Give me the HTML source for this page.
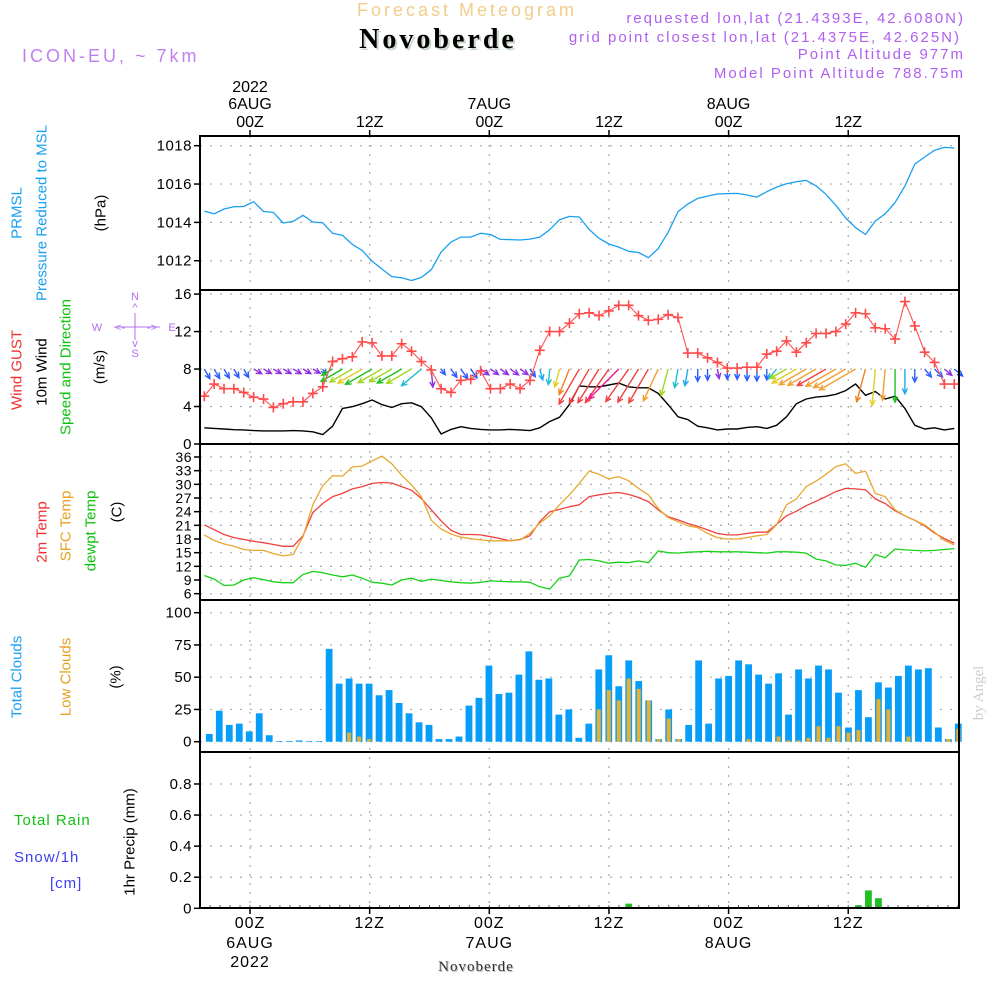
<!DOCTYPE html>
<html><head><meta charset="utf-8"><style>
html,body{margin:0;padding:0;background:#fff;}
svg text{font-family:"Liberation Sans",sans-serif;}
</style></head><body>
<svg id="chart" width="1000" height="1000" viewBox="0 0 1000 1000" xmlns="http://www.w3.org/2000/svg">
<rect width="1000" height="1000" fill="#fff"/>
<g id="grid"></g>
<g id="marks"></g>
<g id="frames"></g>
<g id="labels">
<text x="467" y="16" text-anchor="middle" font-size="18" letter-spacing="3" fill="#f2cc8a">Forecast Meteogram</text>
<text x="440" y="50" text-anchor="middle" font-size="28" font-weight="bold" letter-spacing="3" fill="#c8d8c8" style="font-family:'Liberation Serif',serif">Novoberde</text>
<text x="438" y="48" text-anchor="middle" font-size="28" font-weight="bold" letter-spacing="3" fill="#000" style="font-family:'Liberation Serif',serif">Novoberde</text>
<text x="22" y="62" font-size="18" letter-spacing="3" fill="#c080f0">ICON-EU, ~ 7km</text>
<text x="965" y="23" text-anchor="end" font-size="15" letter-spacing="2" fill="#b060f0">requested lon,lat (21.4393E, 42.6080N)</text>
<text x="961" y="42" text-anchor="end" font-size="15" letter-spacing="2" fill="#b060f0">grid point closest lon,lat (21.4375E, 42.625N)</text>
<text x="965" y="59" text-anchor="end" font-size="15" letter-spacing="2" fill="#b060f0">Point Altitude 977m</text>
<text x="965" y="78" text-anchor="end" font-size="15" letter-spacing="2" fill="#b060f0">Model Point Altitude 788.75m</text>
<text transform="translate(983,693) rotate(-90)" text-anchor="middle" font-size="15" fill="#ccc" style="font-family:'Liberation Serif',serif">by Angel</text>
<text x="477" y="972" text-anchor="middle" font-size="15" fill="#bbb" letter-spacing="1" style="font-family:'Liberation Serif',serif">Novoberde</text>
<text x="476" y="971" text-anchor="middle" font-size="15" fill="#333" letter-spacing="1" style="font-family:'Liberation Serif',serif">Novoberde</text>
</g>
<g id="ylabels" font-size="15">
<text transform="translate(17,213) rotate(-90)" text-anchor="middle" dominant-baseline="central" fill="#1aa0f0">PRMSL</text>
<text transform="translate(42,213) rotate(-90)" text-anchor="middle" dominant-baseline="central" fill="#1aa0f0">Pressure Reduced to MSL</text>
<text transform="translate(101,213) rotate(-90)" text-anchor="middle" dominant-baseline="central" fill="#000">(hPa)</text>
<text transform="translate(17,370) rotate(-90)" text-anchor="middle" dominant-baseline="central" fill="#f03030">Wind GUST</text>
<text transform="translate(42,372) rotate(-90)" text-anchor="middle" dominant-baseline="central" fill="#000">10m Wind</text>
<text transform="translate(66,367) rotate(-90)" text-anchor="middle" dominant-baseline="central" fill="#10c010">Speed and Direction</text>
<text transform="translate(100,367) rotate(-90)" text-anchor="middle" dominant-baseline="central" fill="#000">(m/s)</text>
<g fill="#b070f0" font-size="11" text-anchor="middle">
<text x="135" y="300">N</text><text x="135" y="311">^</text>
<line x1="135" y1="313" x2="135" y2="340" stroke="#b070f0" stroke-width="1"/>
<text x="97" y="331">W</text><text x="120" y="331">&lt;-</text><text x="152" y="331">-&gt;</text>
<line x1="114" y1="327" x2="160" y2="327" stroke="#b070f0" stroke-width="1"/>
<text x="172" y="331">E</text><text x="135" y="347">v</text><text x="135" y="357">S</text></g>
<text transform="translate(42,532) rotate(-90)" text-anchor="middle" dominant-baseline="central" fill="#f03030">2m Temp</text>
<text transform="translate(66,526) rotate(-90)" text-anchor="middle" dominant-baseline="central" fill="#e8a020">SFC Temp</text>
<text transform="translate(91,531) rotate(-90)" text-anchor="middle" dominant-baseline="central" fill="#10c010">dewpt Temp</text>
<text transform="translate(117,512) rotate(-90)" text-anchor="middle" dominant-baseline="central" fill="#000">(C)</text>
<text transform="translate(17,677) rotate(-90)" text-anchor="middle" dominant-baseline="central" fill="#1aa0f0">Total Clouds</text>
<text transform="translate(66,677) rotate(-90)" text-anchor="middle" dominant-baseline="central" fill="#e8a020">Low Clouds</text>
<text transform="translate(116,677) rotate(-90)" text-anchor="middle" dominant-baseline="central" fill="#000">(%)</text>
<text transform="translate(130,842) rotate(-90)" text-anchor="middle" dominant-baseline="central" fill="#000">1hr Precip (mm)</text>
<text x="14" y="825" fill="#10c010" letter-spacing="1">Total  Rain</text>
<text x="14" y="862" fill="#4040f0" letter-spacing="1">Snow/1h</text>
<text x="50" y="888" fill="#4040f0" letter-spacing="1">[cm]</text>
</g>
</svg>
<script>
// ---- data ----
const pressure=[1014.59,1014.45,1014.7,1014.82,1014.83,1015.08,1014.57,1014.52,1013.97,1014.05,1014.37,1014.02,1013.98,1013.43,1013.32,1012.85,1012.54,1011.97,1011.57,1011.17,1011.11,1010.97,1011.13,1011.53,1012.45,1012.97,1013.23,1013.23,1013.43,1013.37,1013.11,1013.1,1013.08,1013.13,1013.23,1013.62,1014.14,1014.31,1014.28,1013.63,1013.17,1012.87,1012.71,1012.49,1012.43,1012.16,1012.63,1013.48,1014.56,1014.96,1015.25,1015.37,1015.48,1015.5,1015.51,1015.43,1015.32,1015.6,1015.84,1016.02,1016.12,1016.19,1015.91,1015.46,1014.89,1014.23,1013.72,1013.37,1014.07,1014.45,1015.03,1015.9,1017.04,1017.41,1017.76,1017.91,1017.88];
const gust=[5.1,6.4,5.9,5.9,5.5,5.0,4.8,3.9,4.3,4.5,4.5,5.4,6.1,8.8,9.1,9.3,10.9,10.8,9.4,9.4,10.7,9.9,8.8,7.9,5.9,5.5,6.8,6.9,7.8,5.9,5.9,6.4,5.9,6.8,10.0,12.0,12.0,12.9,13.9,14.0,13.7,14.2,14.8,14.8,13.7,13.2,13.3,13.8,13.5,9.7,9.7,9.2,8.7,8.1,8.1,8.2,8.2,9.6,9.9,11.0,9.8,10.8,11.8,11.8,12.0,12.8,14.0,13.9,12.4,12.3,11.2,15.2,12.6,9.8,8.7,6.4,6.4];
const windSpeed=[1.73,1.67,1.6,1.53,1.5,1.43,1.4,1.4,1.4,1.43,1.4,1.3,1.0,1.9,3.8,3.98,4.3,4.7,4.2,3.9,4.3,4.4,3.98,2.8,1.07,1.56,1.85,1.67,1.56,1.5,1.5,1.56,1.5,1.43,1.73,2.4,2.85,4.2,6.2,6.1,6.1,6.3,6.5,6.1,6.0,6.0,5.4,4.2,2.9,2.6,1.9,1.73,1.5,1.6,1.6,1.77,1.85,1.67,2.0,2.9,4.3,4.8,5.0,5.1,5.3,5.7,6.4,5.2,5.6,4.8,5.1,3.8,2.0,1.6,1.73,1.5,1.67];
const windDir=[60,60,60,60,60,30,30,30,30,30,30,30,60,150,150,150,150,150,150,150,150,150,140,85,55,55,55,55,35,35,35,35,35,55,75,95,105,112,120,120,122,125,135,125,122,120,115,105,100,100,90,90,80,90,90,90,90,90,130,150,150,150,150,150,150,150,150,105,95,95,90,90,90,50,45,40,40];
const windColor=["#2a5cff","#2a5cff","#2a5cff","#2a5cff","#2a5cff","#9030e0","#9030e0","#9030e0","#9030e0","#9030e0","#9030e0","#9030e0","#2a5cff","#20c020","#20c020","#a0d820","#e0d020","#20c020","#a0d820","#a0d820","#20c020","#a0d820","#20c0d0","#9030e0","#2a5cff","#2a5cff","#2a5cff","#2a5cff","#9030e0","#9030e0","#9030e0","#9030e0","#9030e0","#2a5cff","#20a8f0","#20c0d0","#e0d020","#f08020","#f04040","#f04040","#f04040","#f04040","#f01890","#f04040","#f04040","#f04040","#f0a030","#a0d820","#20c0d0","#20a8f0","#2a5cff","#2a5cff","#9030e0","#2a5cff","#2a5cff","#2a5cff","#2a5cff","#2a5cff","#20c0d0","#a0d820","#e0d020","#f0a030","#f0a030","#f04040","#f0a030","#f0a030","#f0a030","#f08020","#e0d020","#f0a030","#20c020","#20a8f0","#2a5cff","#2a5cff","#2a5cff","#9030e0","#2a5cff"];
const t2m=[21.1,20.05,19.0,18.3,17.9,17.5,17.2,16.8,16.4,16.4,18.7,23.8,25.8,27.3,28.0,29.0,29.5,30.2,30.4,30.3,29.5,28.7,26.9,24.4,22.0,19.9,19.0,19.0,18.9,18.5,18.1,17.6,17.9,18.7,21.8,24.0,24.5,25.1,25.5,27.3,27.7,28.0,28.2,27.8,27.1,26.2,24.4,22.9,22.2,21.4,20.8,20.0,19.2,18.9,18.9,19.2,19.5,19.5,21.2,23.1,24.1,25.3,26.3,27.3,28.4,29.1,29.0,28.8,26.8,25.8,24.2,23.1,22.1,20.9,19.3,18.1,17.1];
const sfcTemp=[18.9,17.7,16.9,16.4,15.7,15.5,15.5,14.8,14.3,14.6,18.5,25.5,29.7,31.9,31.8,33.8,34.0,35.1,36.2,34.5,32.0,29.9,27.3,22.1,20.2,19.1,18.4,18.1,17.8,17.6,17.6,17.6,17.8,19.2,21.5,23.1,25.5,27.7,30.2,32.9,32.2,31.2,31.7,30.8,29.1,27.7,24.7,22.7,21.8,20.9,20.5,19.2,18.3,18.0,18.0,18.3,18.7,19.0,21.1,25.5,26.8,29.5,30.7,32.2,33.9,34.5,32.4,32.9,28.0,27.3,24.4,23.1,22.1,21.1,19.5,17.7,16.7];
const dewpt=[10.0,9.2,7.8,7.9,9.0,9.5,9.1,8.6,8.4,8.4,10.2,10.9,10.6,10.1,9.7,10.1,9.4,8.5,8.3,7.9,9.0,9.4,8.7,9.2,8.9,8.6,8.4,8.3,8.5,8.8,8.7,8.6,8.6,8.5,7.5,7.0,9.4,9.9,13.4,13.5,13.2,12.7,12.9,12.8,13.2,12.8,15.4,15.0,14.9,15.1,15.2,15.3,15.2,15.2,15.2,15.1,15.0,14.9,15.2,15.2,15.1,14.9,13.6,13.2,12.3,12.2,12.7,11.8,14.6,13.9,15.8,15.6,15.5,15.4,15.5,15.7,15.9];
const totalClouds=[6,24,13,14,8,22,5,0.5,0.5,1,0.5,0.5,72,45,49,45,45,36,40,30,22,15,13,2,2,4,28,34,59,37,38,52,70,48,49,21,25,3,14,56,67,43,63,47,32,2,25,2,13,63,14,49,51,63,60,52,45,53,21,56,49,59,56,38,11,40,19,46,42,51,59,56,57,11,2,14];
const lowClouds=[0,0,0,0,0,0,0,0,0,0,0,0,0,0,7,4,2,0,0,0,0,0,0,0,0,0,0,0,0,0,0,0,0,0,0,0,0,0,0,25,40,32,49,41,32,2,18,2,0,0,0,0,0,0,2,0,0,4,1,1,3,12,3,12,7,9,0,33,25,0,4,0,0,0,2,10];
const precip=[0,0,0,0,0,0,0,0,0,0,0,0,0,0,0,0,0,0,0,0,0,0,0,0,0,0,0,0,0,0,0,0,0,0,0,0,0,0,0,0,0,0,0.03,0,0,0,0,0,0,0,0,0,0,0,0,0,0,0,0,0,0,0,0,0,0,0.02,0.115,0.065,0,0,0,0,0,0,0,0];
const pTicks=[1012,1014,1016,1018];
const wTicks=[0,4,8,12,16];
const tTicks=[6,9,12,15,18,21,24,27,30,33,36];
const cTicks=[0,25,50,75,100];
const rTicks=[0,0.2,0.4,0.6,0.8];
const timeLabels=["00Z","12Z","00Z","12Z","00Z","12Z"];
const dayLabels=["6AUG","","7AUG","","8AUG",""];

// ---- axes ----
const NS="http://www.w3.org/2000/svg";
const L=200,R=959;
const lineX=k=>204.3+k*9.868;
const barX=j=>209.3+j*9.987;
const timeX=n=>250+n*119.65;
const yP=v=>145.7+(1018-v)*19.17;
const yW=v=>444-v*9.37;
const yT=v=>457+(36-v)*4.556;
const yC=v=>741.7-v*1.29;
const yR=v=>908.3-v*155.4;
const panels=[[136,290],[290,444],[444,600],[600,752],[752,908]];
function mk(tag,attrs,parent){const e=document.createElementNS(NS,tag);for(const k in attrs)e.setAttribute(k,attrs[k]);parent.appendChild(e);return e;}
const grid=document.getElementById('grid'),marks=document.getElementById('marks'),frames=document.getElementById('frames');

function hgrid(ticks,yf,name,fs){
  ticks.forEach(t=>{
    const y=yf(t);
    const g=mk('line',{x1:L,x2:R,y1:y,y2:y,stroke:'#aaa','stroke-width':1.2,'stroke-dasharray':'2,8'},grid);
    
    
    mk('line',{x1:194,x2:L,y1:y,y2:y,stroke:'#000','stroke-width':1.5},frames);
    const tx=mk('text',{x:192,y:y+5,'text-anchor':'end','font-size':fs,fill:'#000','letter-spacing':'0.5'},frames);
    tx.textContent=String(t);
    
    
  });
}
hgrid(pTicks,yP,'pressure',15);
hgrid(wTicks,yW,'wind',15);
hgrid(tTicks,yT,'temp',14);
hgrid(cTicks,yC,'cloud',15);
hgrid(rTicks,yR,'precip',15);
for(let n=0;n<6;n++){
  const x=timeX(n);
  const v=mk('line',{x1:x,x2:x,y1:136,y2:908,stroke:'#aaa','stroke-width':1.2,'stroke-dasharray':'2,7'},grid);
  
  
  mk('line',{x1:x,x2:x,y1:130,y2:136,stroke:'#000','stroke-width':1.5},frames);
  mk('line',{x1:x,x2:x,y1:908,y2:914,stroke:'#000','stroke-width':1.5},frames);
  const a=mk('text',{x:x,y:127,'text-anchor':'middle','font-size':16,fill:'#000'},frames);a.textContent=timeLabels[n];
  
  
  const b=mk('text',{x:x,y:928,'text-anchor':'middle','font-size':16,fill:'#000','letter-spacing':'1'},frames);b.textContent=timeLabels[n];
  
  
  if(dayLabels[n]){
    const c=mk('text',{x:x,y:109,'text-anchor':'middle','font-size':16,fill:'#000'},frames);c.textContent=dayLabels[n];
    
    
    const d=mk('text',{x:x,y:948,'text-anchor':'middle','font-size':16,fill:'#000','letter-spacing':'1'},frames);d.textContent=dayLabels[n];
    
    
  }
}
{const e=mk('text',{x:timeX(0),y:92,'text-anchor':'middle','font-size':16,fill:'#000'},frames);e.textContent='2022';


const f=mk('text',{x:timeX(0),y:967,'text-anchor':'middle','font-size':16,fill:'#000','letter-spacing':'1'},frames);f.textContent='2022';

}
for(let h=-4;h<=71;h++){const x=250+h*9.97;mk('line',{x1:x,x2:x,y1:905,y2:908,stroke:'#666','stroke-width':1},frames);}
panels.forEach((p,i)=>{
  const r=mk('rect',{x:L,y:p[0],width:R-L,height:p[1]-p[0],fill:'none',stroke:'#000','stroke-width':2},frames);
  
  
});

// ---- marks ----
function poly(arr,yf,color,name,w){
  const pts=arr.map((v,k)=>lineX(k).toFixed(1)+','+yf(v).toFixed(1)).join(' ');
  const p=mk('polyline',{points:pts,fill:'none',stroke:color,'stroke-width':w||1.3,'stroke-linejoin':'round'},marks);
  
  
}
poly(pressure,yP,'#1aa0f0','pressure-line');
totalClouds.forEach((v,j)=>{
  const x=barX(j);
  const b=mk('rect',{x:x-3.4,y:yC(v),width:6.8,height:Math.max(0,yC(0)-yC(v)),fill:'#069ef8'},marks);
  
  
});
lowClouds.forEach((v,j)=>{
  if(v<=0)return;
  const x=barX(j);
  const b=mk('rect',{x:x-2,y:yC(v),width:4,height:yC(0)-yC(v),fill:'#e8b030'},marks);
  
  
});
precip.forEach((v,j)=>{
  if(v<=0)return;
  const x=barX(j);
  const b=mk('rect',{x:x-3.4,y:yR(v),width:6.8,height:yR(0)-yR(v),fill:'#20c020'},marks);
  
  
});
poly(t2m,yT,'#f04040','t2m-line');
poly(sfcTemp,yT,'#e8a830','sfc-temp-line');
poly(dewpt,yT,'#18d018','dewpoint-line');
poly(windSpeed,yW,'#000','wind-speed-line',1.4);
windDir.forEach((d,k)=>{
  const x0=lineX(k),y0=yW(8);
  const len=6.5*windSpeed[k];
  const a=d*Math.PI/180;
  const x1=x0+len*Math.cos(a),y1=y0+len*Math.sin(a);
  const hl=6;
  const h1=a+Math.PI-0.45,h2=a+Math.PI+0.45;
  const g=mk('path',{d:`M${x0},${y0}L${x1},${y1}M${x1+hl*Math.cos(h1)},${y1+hl*Math.sin(h1)}L${x1},${y1}L${x1+hl*Math.cos(h2)},${y1+hl*Math.sin(h2)}`,stroke:windColor[k],'stroke-width':1.4,fill:'none'},marks);
  
  
});
poly(gust,yW,'#ff5050','gust-line',1.1);
gust.forEach((v,k)=>{
  const x=lineX(k),y=yW(v);
  const c=mk('path',{d:`M${x-5},${y}H${x+5}M${x},${y-5}V${y+5}`,stroke:'#ff4a4a','stroke-width':1.6},marks);
  
  
});
</script>
</body></html>
